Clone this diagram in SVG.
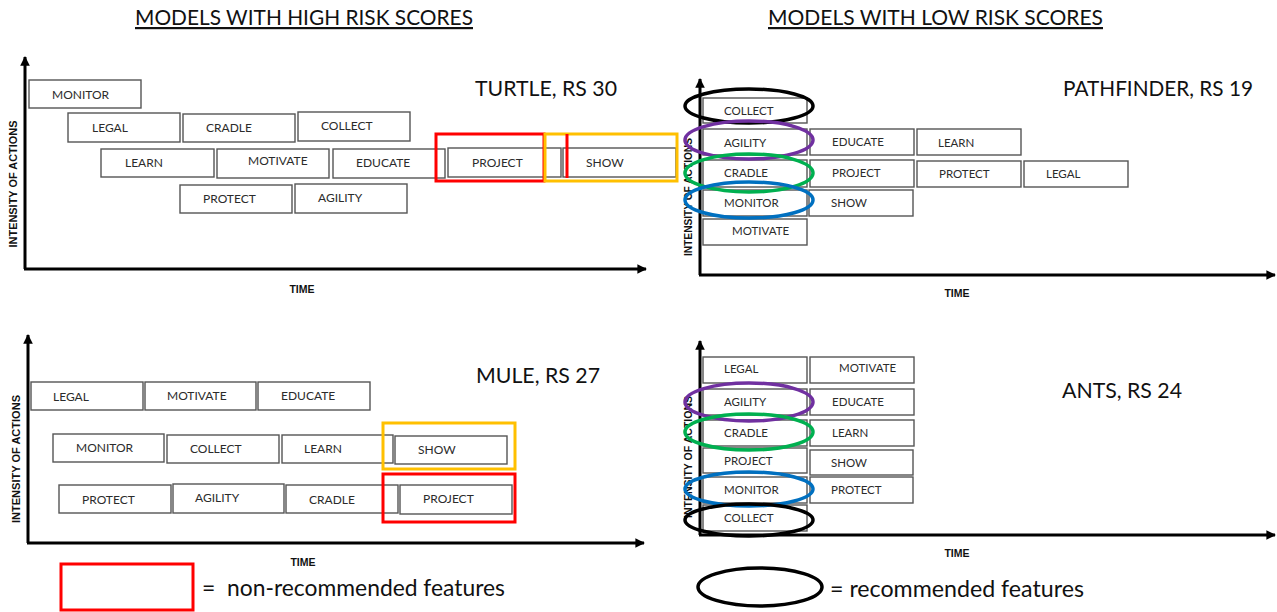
<svg xmlns="http://www.w3.org/2000/svg" width="1277" height="612" viewBox="0 0 1277 612">
  <style>
    .box { fill: #ffffff; stroke: #555555; stroke-width: 1.4; }
    .lbl { font-family: Lato, "Liberation Sans", sans-serif; font-size: 12px; fill: #2b2b2b; }
    .lbs { font-family: Lato, "Liberation Sans", sans-serif; font-size: 11.5px; fill: #2b2b2b; }
    .axis { stroke: #000000; stroke-width: 3; fill: none; }
    .axlbl { font-family: "Liberation Sans", Arial, sans-serif; font-size: 10.5px; font-weight: bold; fill: #111111; }
    .title { font-family: Lato, "Liberation Sans", sans-serif; font-size: 21px; fill: #111111; }
    .head { font-family: Lato, "Liberation Sans", sans-serif; font-size: 22px; fill: #111111; text-decoration: underline; }
    .legend { font-family: Lato, "Liberation Sans", sans-serif; font-size: 23px; fill: #111111; }
    .red { fill: none; stroke: #ff0000; stroke-width: 3; }
    .amber { fill: none; stroke: #ffc000; stroke-width: 3; }
    .ring { fill: none; stroke-width: 3.5; }
    .k { stroke: #000000; }
    .pu { stroke: #7030a0; }
    .gr { stroke: #00b050; }
    .bl { stroke: #0070c0; }
  </style>
  <defs>
    <marker id="arrow" viewBox="0 0 10 10" refX="9" refY="5" markerWidth="3.2" markerHeight="3.2" orient="auto">
      <path d="M0,0 L10,5 L0,10 z" fill="#000000"/>
    </marker>
  </defs>

  <rect width="1277" height="612" fill="#ffffff"/>

  <!-- section headings -->
  <text class="head" x="135" y="25" textLength="338" lengthAdjust="spacingAndGlyphs">MODELS WITH HIGH RISK SCORES</text>
  <text class="head" x="768" y="25" textLength="335" lengthAdjust="spacingAndGlyphs">MODELS WITH LOW RISK SCORES</text>

  <!-- chart axes -->
  <g id="connectors">
    <line class="axis" x1="25" y1="269" x2="25" y2="57" marker-end="url(#arrow)"/>
    <line class="axis" x1="24" y1="269" x2="646" y2="269" marker-end="url(#arrow)"/>
    <line class="axis" x1="28" y1="543" x2="28" y2="335" marker-end="url(#arrow)"/>
    <line class="axis" x1="27" y1="543" x2="644" y2="543" marker-end="url(#arrow)"/>
    <line class="axis" x1="700" y1="275" x2="700" y2="79" marker-end="url(#arrow)"/>
    <line class="axis" x1="699" y1="275" x2="1275" y2="275" marker-end="url(#arrow)"/>
    <line class="axis" x1="700" y1="535" x2="700" y2="341" marker-end="url(#arrow)"/>
    <line class="axis" x1="699" y1="535" x2="1275" y2="535" marker-end="url(#arrow)"/>
  </g>

  <!-- axis captions -->
  <g id="axis-captions">
    <text class="axlbl" transform="translate(17,184) rotate(-90)" text-anchor="middle" textLength="127" lengthAdjust="spacingAndGlyphs">INTENSITY OF ACTIONS</text>
    <text class="axlbl" x="302" y="293" text-anchor="middle">TIME</text>
    <text class="axlbl" transform="translate(20,459) rotate(-90)" text-anchor="middle" textLength="128" lengthAdjust="spacingAndGlyphs">INTENSITY OF ACTIONS</text>
    <text class="axlbl" x="303" y="566" text-anchor="middle">TIME</text>
    <text class="axlbl" transform="translate(692,197) rotate(-90)" text-anchor="middle" textLength="118" lengthAdjust="spacingAndGlyphs">INTENSITY OF ACTIONS</text>
    <text class="axlbl" x="957" y="297" text-anchor="middle">TIME</text>
    <text class="axlbl" transform="translate(692,457) rotate(-90)" text-anchor="middle" textLength="122" lengthAdjust="spacingAndGlyphs">INTENSITY OF ACTIONS</text>
    <text class="axlbl" x="957" y="557" text-anchor="middle">TIME</text>
  </g>

  <!-- chart titles -->
  <text class="title" x="475" y="96" textLength="142" lengthAdjust="spacingAndGlyphs">TURTLE, RS 30</text>
  <text class="title" x="476" y="383" textLength="124" lengthAdjust="spacingAndGlyphs">MULE, RS 27</text>
  <text class="title" x="1063" y="96" textLength="190" lengthAdjust="spacingAndGlyphs">PATHFINDER, RS 19</text>
  <text class="title" x="1062" y="398" textLength="120" lengthAdjust="spacingAndGlyphs">ANTS, RS 24</text>

  <!-- TURTLE -->
  <g id="turtle">
    <g id="turtle-monitor"><rect class="box" x="29" y="80" width="112" height="28"/><text class="lbl" x="52" y="99">MONITOR</text></g>
    <g id="turtle-legal"><rect class="box" x="68" y="113" width="112" height="29"/><text class="lbl" x="92" y="132">LEGAL</text></g>
    <g id="turtle-cradle"><rect class="box" x="183" y="114" width="112" height="28"/><text class="lbl" x="206" y="132">CRADLE</text></g>
    <g id="turtle-collect"><rect class="box" x="298" y="112" width="112" height="29"/><text class="lbl" x="321" y="130">COLLECT</text></g>
    <g id="turtle-learn"><rect class="box" x="101" y="149" width="113" height="28"/><text class="lbl" x="125" y="167">LEARN</text></g>
    <g id="turtle-motivate"><rect class="box" x="217" y="149" width="112" height="29"/><text class="lbl" x="248" y="165">MOTIVATE</text></g>
    <g id="turtle-educate"><rect class="box" x="333" y="149" width="112" height="29"/><text class="lbl" x="356" y="167">EDUCATE</text></g>
    <g id="turtle-project"><rect class="box" x="448" y="148" width="113" height="29"/><text class="lbl" x="472" y="167">PROJECT</text></g>
    <g id="turtle-show"><rect class="box" x="563" y="148" width="113" height="29"/><text class="lbl" x="586" y="167">SHOW</text></g>
    <g id="turtle-protect"><rect class="box" x="180" y="185" width="112" height="28"/><text class="lbl" x="203" y="203">PROTECT</text></g>
    <g id="turtle-agility"><rect class="box" x="295" y="184" width="112" height="29"/><text class="lbl" x="318" y="202">AGILITY</text></g>
    <rect class="red" x="436" y="134" width="108" height="47"/>
    <rect class="amber" x="545" y="134" width="132" height="47"/>
    <line x1="567" y1="134" x2="567" y2="178" stroke="#ff0000" stroke-width="3"/>
  </g>

  <!-- MULE -->
  <g id="mule">
    <g id="mule-legal"><rect class="box" x="31" y="382" width="112" height="28"/><text class="lbl" x="53" y="401">LEGAL</text></g>
    <g id="mule-motivate"><rect class="box" x="145" y="382" width="111" height="28"/><text class="lbl" x="167" y="400">MOTIVATE</text></g>
    <g id="mule-educate"><rect class="box" x="258" y="382" width="112" height="28"/><text class="lbl" x="281" y="400">EDUCATE</text></g>
    <g id="mule-monitor"><rect class="box" x="53" y="434" width="111" height="28"/><text class="lbl" x="76" y="452">MONITOR</text></g>
    <g id="mule-collect"><rect class="box" x="167" y="435" width="112" height="28"/><text class="lbl" x="190" y="453">COLLECT</text></g>
    <g id="mule-learn"><rect class="box" x="282" y="435" width="111" height="28"/><text class="lbl" x="304" y="453">LEARN</text></g>
    <g id="mule-show"><rect class="box" x="395" y="436" width="112" height="28"/><text class="lbl" x="418" y="454">SHOW</text></g>
    <g id="mule-protect"><rect class="box" x="59" y="485" width="112" height="28"/><text class="lbl" x="82" y="504">PROTECT</text></g>
    <g id="mule-agility"><rect class="box" x="173" y="484" width="111" height="29"/><text class="lbl" x="195" y="502">AGILITY</text></g>
    <g id="mule-cradle"><rect class="box" x="286" y="485" width="112" height="28"/><text class="lbl" x="309" y="504">CRADLE</text></g>
    <g id="mule-project"><rect class="box" x="400" y="485" width="112" height="29"/><text class="lbl" x="423" y="503">PROJECT</text></g>
    <rect class="amber" x="383" y="423" width="132" height="46"/>
    <rect class="red" x="383" y="474" width="132" height="48"/>
  </g>

  <!-- PATHFINDER -->
  <g id="pathfinder">
    <g id="pathfinder-collect"><rect class="box" x="703" y="98" width="104" height="25"/><text class="lbs" x="724" y="115">COLLECT</text></g>
    <g id="pathfinder-agility"><rect class="box" x="703" y="129" width="104" height="26"/><text class="lbs" x="724" y="147">AGILITY</text></g>
    <g id="pathfinder-educate"><rect class="box" x="810" y="129" width="104" height="26"/><text class="lbs" x="832" y="146">EDUCATE</text></g>
    <g id="pathfinder-learn"><rect class="box" x="917" y="129" width="104" height="26"/><text class="lbs" x="938" y="147">LEARN</text></g>
    <g id="pathfinder-cradle"><rect class="box" x="703" y="160" width="104" height="27"/><text class="lbs" x="724" y="177">CRADLE</text></g>
    <g id="pathfinder-project"><rect class="box" x="810" y="160" width="104" height="27"/><text class="lbs" x="832" y="177">PROJECT</text></g>
    <g id="pathfinder-protect"><rect class="box" x="917" y="161" width="104" height="26"/><text class="lbs" x="939" y="178">PROTECT</text></g>
    <g id="pathfinder-legal"><rect class="box" x="1024" y="161" width="104" height="26"/><text class="lbs" x="1046" y="178">LEGAL</text></g>
    <g id="pathfinder-monitor"><rect class="box" x="703" y="190" width="104" height="26"/><text class="lbs" x="724" y="207">MONITOR</text></g>
    <g id="pathfinder-show"><rect class="box" x="809" y="190" width="104" height="26"/><text class="lbs" x="831" y="207">SHOW</text></g>
    <g id="pathfinder-motivate"><rect class="box" x="703" y="219" width="104" height="26"/><text class="lbs" x="732" y="235">MOTIVATE</text></g>
    <ellipse class="ring k" cx="749" cy="106" rx="64" ry="17"/>
    <ellipse class="ring pu" cx="749" cy="140" rx="64" ry="19"/>
    <ellipse class="ring gr" cx="749" cy="173" rx="64" ry="19"/>
    <ellipse class="ring bl" cx="749" cy="200" rx="64" ry="18"/>
  </g>

  <!-- ANTS -->
  <g id="ants">
    <g id="ants-legal"><rect class="box" x="703" y="357" width="104" height="26"/><text class="lbs" x="724" y="373">LEGAL</text></g>
    <g id="ants-motivate"><rect class="box" x="810" y="357" width="104" height="26"/><text class="lbs" x="839" y="372">MOTIVATE</text></g>
    <g id="ants-agility"><rect class="box" x="703" y="389" width="104" height="26"/><text class="lbs" x="724" y="406">AGILITY</text></g>
    <g id="ants-educate"><rect class="box" x="810" y="389" width="104" height="26"/><text class="lbs" x="832" y="406">EDUCATE</text></g>
    <g id="ants-cradle"><rect class="box" x="703" y="420" width="104" height="26"/><text class="lbs" x="724" y="437">CRADLE</text></g>
    <g id="ants-learn"><rect class="box" x="810" y="420" width="104" height="26"/><text class="lbs" x="832" y="437">LEARN</text></g>
    <g id="ants-project"><rect class="box" x="703" y="448" width="104" height="25"/><text class="lbs" x="724" y="465">PROJECT</text></g>
    <g id="ants-show"><rect class="box" x="810" y="450" width="103" height="25"/><text class="lbs" x="831" y="467">SHOW</text></g>
    <g id="ants-monitor"><rect class="box" x="703" y="477" width="104" height="26"/><text class="lbs" x="724" y="494">MONITOR</text></g>
    <g id="ants-protect"><rect class="box" x="810" y="477" width="103" height="26"/><text class="lbs" x="831" y="494">PROTECT</text></g>
    <g id="ants-collect"><rect class="box" x="703" y="505" width="104" height="26"/><text class="lbs" x="724" y="522">COLLECT</text></g>
    <ellipse class="ring pu" cx="749" cy="402" rx="64" ry="19"/>
    <ellipse class="ring gr" cx="749" cy="432" rx="64" ry="18"/>
    <ellipse class="ring bl" cx="749" cy="489" rx="64" ry="17"/>
    <ellipse class="ring k" cx="749" cy="520" rx="64" ry="16"/>
  </g>

  <!-- legends -->
  <g id="legend-non-recommended">
    <rect class="red" x="61" y="564" width="132" height="46" stroke-width="3.5"/>
    <text class="legend"><tspan x="202" y="596">=</tspan><tspan x="227" y="596" textLength="278" lengthAdjust="spacingAndGlyphs">non-recommended features</tspan></text>
  </g>
  <g id="legend-recommended">
    <ellipse class="ring k" cx="760" cy="587" rx="62" ry="19"/>
    <text class="legend" x="830" y="597" textLength="254" lengthAdjust="spacingAndGlyphs">= recommended features</text>
  </g>
</svg>
